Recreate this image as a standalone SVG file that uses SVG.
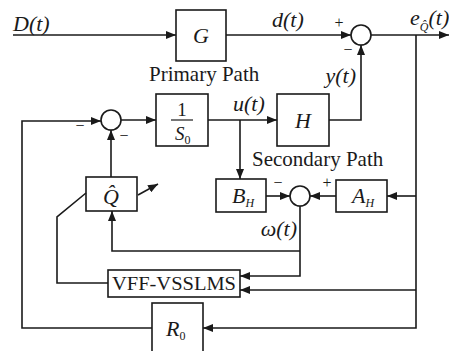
<svg xmlns="http://www.w3.org/2000/svg" width="449" height="351" viewBox="0 0 449 351">
<style>
.b{fill:none;stroke:#1a1a1a;stroke-width:1.6}
.l{fill:none;stroke:#1a1a1a;stroke-width:1.6}
.c{fill:#fff;stroke:#1a1a1a;stroke-width:1.6}
text{font-family:"Liberation Serif","Times New Roman",serif;fill:#1a1a1a}
.m{font-style:italic;font-size:22px}
.s{font-size:21px}
.sub{font-style:italic;font-size:12px}
.subn{font-style:normal;font-size:12px}
.sg{font-size:16px}
</style>
<defs>
<marker id="a" viewBox="0 0 10 8" refX="10" refY="4" markerWidth="10" markerHeight="8" markerUnits="userSpaceOnUse" orient="auto">
<path d="M0,0 L10,4 L0,8 z" fill="#1a1a1a"/>
</marker>
</defs>
<rect width="449" height="351" fill="#fff"/>
<g id="connectors">
<path class="l" d="M13,35 H176" marker-end="url(#a)"/>
<path class="l" d="M226,35 H351" marker-end="url(#a)"/>
<path class="l" d="M371,35 H449" marker-end="url(#a)"/>
<path class="l" d="M416,35 V328 H203" marker-end="url(#a)"/>
<path class="l" d="M416,196 H387" marker-end="url(#a)"/>
<path class="l" d="M416,290 H240" marker-end="url(#a)"/>
<path class="l" d="M152,328 H22 V121 H101" marker-end="url(#a)"/>
<path class="l" d="M121,120 H156" marker-end="url(#a)"/>
<path class="l" d="M208,120 H277" marker-end="url(#a)"/>
<path class="l" d="M240,120 V179" marker-end="url(#a)"/>
<path class="l" d="M329,120 H361 V45" marker-end="url(#a)"/>
<path class="l" d="M266,196 H290" marker-end="url(#a)"/>
<path class="l" d="M336,196 H310" marker-end="url(#a)"/>
<path class="l" d="M300,206 V276 H240" marker-end="url(#a)"/>
<path class="l" d="M300,251 H112 V211" marker-end="url(#a)"/>
<path class="l" d="M111,177 V130" marker-end="url(#a)"/>
<path class="l" d="M138,195 L158,184" marker-end="url(#a)"/>
<path class="l" d="M86,193 L57,217 V283 H108"/>
</g>
<g id="sum1"><circle class="c" cx="361" cy="35" r="10"/></g>
<g id="sum2"><circle class="c" cx="111" cy="120" r="10"/></g>
<g id="sum3"><circle class="c" cx="300" cy="196" r="10"/></g>
<g id="G"><rect class="b" x="176" y="10" width="50" height="51"/><text class="m" x="201" y="43" text-anchor="middle">G</text></g>
<g id="S0"><rect class="b" x="156" y="94" width="52" height="52"/>
<text x="182" y="116" font-size="19" text-anchor="middle">1</text>
<line x1="171" y1="120" x2="193" y2="120" stroke="#1a1a1a" stroke-width="1.2"/>
<text x="175" y="140" font-size="19" font-style="italic">S<tspan class="subn" dy="4">0</tspan></text></g>
<g id="H"><rect class="b" x="277" y="94" width="52" height="52"/><text class="m" x="303" y="128" text-anchor="middle">H</text></g>
<g id="BH"><rect class="b" x="216" y="179" width="50" height="33"/><text class="m" x="232" y="203">B<tspan class="sub" dy="4">H</tspan></text></g>
<g id="AH"><rect class="b" x="336" y="180" width="51" height="32"/><text class="m" x="352" y="203">A<tspan class="sub" dy="4">H</tspan></text></g>
<g id="Qhat"><rect class="b" x="86" y="177" width="51" height="34"/><text class="m" x="111" y="204" text-anchor="middle">Q̂</text></g>
<g id="VFF"><rect class="b" x="108" y="270" width="132" height="27"/><text x="174" y="290" font-size="19" text-anchor="middle" textLength="124" lengthAdjust="spacingAndGlyphs">VFF-VSSLMS</text></g>
<g id="R0"><rect class="b" x="152" y="303" width="51" height="60"/><text class="m" x="166" y="336">R<tspan class="subn" dy="4">0</tspan></text></g>
<g id="labels">
<text class="m" x="13" y="31">D(t)</text>
<text class="m" x="272" y="27">d(t)</text>
<text class="m" x="410" y="25">e<tspan class="sub" dy="6">Q̂</tspan><tspan dy="-6">(t)</tspan></text>
<text class="m" x="356" y="83" text-anchor="end">y(t)</text>
<text class="m" x="233" y="111">u(t)</text>
<text class="m" x="297" y="236" text-anchor="end">ω(t)</text>
<text class="s" x="149" y="81">Primary Path</text>
<text class="s" x="252" y="166">Secondary Path</text>
<text class="sg" x="339" y="28" text-anchor="middle">+</text>
<text class="sg" x="348" y="55" text-anchor="middle">−</text>
<text class="sg" x="80" y="131" text-anchor="middle">−</text>
<text class="sg" x="124" y="141" text-anchor="middle">−</text>
<text class="sg" x="278" y="188" text-anchor="middle">−</text>
<text class="sg" x="327" y="188" text-anchor="middle">+</text>
</g>
</svg>
